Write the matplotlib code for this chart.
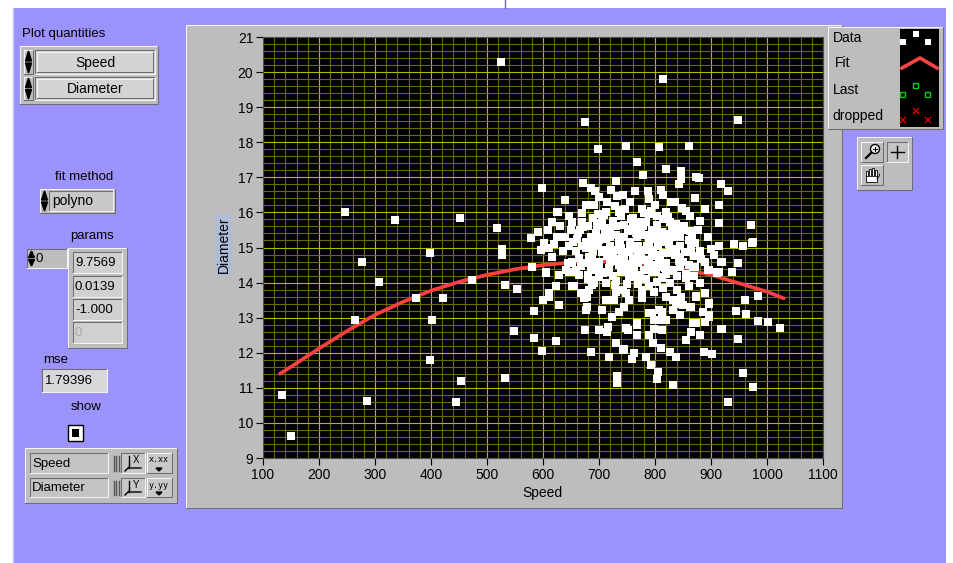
import matplotlib
matplotlib.use('Agg')
import matplotlib.pyplot as plt
from matplotlib.patches import Rectangle
from matplotlib.ticker import MultipleLocator

# ---------------- data ----------------
speed_sparse = [134, 150, 247, 265, 277, 286, 308, 335, 374, 399,
                399, 401, 421, 444, 451, 453, 473, 518, 525, 527,
                527, 532, 532, 553, 548, 815, 675, 949, 699, 749,
                808, 860, 768, 779, 819, 847, 874, 878, 598, 672,
                731, 917, 930, 914, 914, 971, 975, 957, 941, 973,
                639, 625, 616, 609, 591, 578, 630, 625]
diam_sparse = [10.8, 9.63, 16.0, 12.94, 14.6, 10.63, 14.03, 15.77, 13.57, 14.83,
               11.8, 12.94, 13.57, 10.6, 15.83, 11.2, 14.06, 15.57, 20.3, 14.95,
               14.8, 13.94, 11.29, 13.83, 12.63, 19.8, 18.57, 18.63, 17.8, 17.9,
               17.86, 17.9, 17.43, 17.06, 17.23, 17.17, 17.0, 16.97, 16.71, 16.83,
               16.89, 16.8, 16.6, 16.2, 15.69, 15.63, 15.17, 15.03, 15.09, 15.14,
               16.34, 16.0, 15.74, 15.49, 15.43, 15.26, 15.6, 15.31]

speed_low = [584, 600, 605, 584, 598, 623, 628, 652, 675, 686,
             700, 715, 718, 733, 733, 731, 745, 759, 768, 784,
             792, 806, 803, 832, 799, 813, 810, 826, 837, 855,
             864, 880, 887, 901, 917, 930, 949, 957, 975, 984,
             1001, 1023, 944, 962, 960, 984, 897, 890, 910, 949,
             917, 896, 874, 865, 885, 897, 889, 867, 847, 832,
             832, 844, 813, 820, 803, 790, 777, 777, 799, 767,
             751, 724, 736, 754, 749, 731, 713, 706, 679, 673,
             682, 668, 691, 713, 700, 659, 641, 611, 767, 784,
             803, 826, 856, 832, 867]
diam_low = [13.2, 13.49, 14.26, 12.43, 12.06, 12.34, 13.37, 13.89, 12.66, 12.03,
            12.66, 12.6, 11.89, 11.34, 11.14, 12.29, 12.11, 11.83, 12.51, 11.89,
            11.66, 11.46, 11.26, 11.09, 12.69, 12.66, 12.14, 12.03, 11.89, 12.37,
            12.6, 12.51, 12.03, 11.97, 12.69, 10.6, 12.4, 11.43, 11.03, 12.91,
            12.89, 12.71, 13.2, 13.11, 13.51, 13.63, 13.4, 13.69, 14.26, 14.57,
            14.6, 14.37, 13.63, 13.31, 13.17, 13.09, 12.89, 12.86, 13.6, 13.51,
            13.23, 13.09, 13.17, 12.94, 12.94, 13.14, 13.57, 13.8, 13.74, 12.8,
            12.66, 13.03, 13.17, 13.51, 13.71, 13.74, 13.51, 13.23, 13.29, 13.57,
            13.8, 13.71, 14.0, 14.0, 14.17, 14.29, 14.37, 13.71, 14.17, 14.09,
            14.03, 14.0, 14.14, 14.37, 14.43]

speed_upper_left = [686, 693, 722, 733, 743, 788, 790, 677, 691, 715,
                    729, 747, 776, 627, 670, 709, 647, 652, 670, 702,
                    740, 772, 784, 803, 650, 666, 718, 754, 794, 602,
                    647, 677, 695, 713, 736, 767, 790, 596, 616, 659,
                    682, 706, 731, 754, 784, 803, 652, 677, 700, 736,
                    763, 790, 580, 605, 659, 713, 628]
diam_upper_left = [16.69, 16.6, 16.63, 16.46, 16.49, 16.6, 16.37, 16.2, 16.2, 16.29,
                   16.17, 16.11, 16.11, 16.0, 15.97, 15.94, 15.89, 15.74, 15.74, 15.69,
                   15.89, 15.74, 15.74, 15.89, 15.51, 15.49, 15.57, 15.46, 15.51, 15.14,
                   15.03, 15.17, 15.03, 15.23, 15.14, 15.31, 15.17, 14.94, 14.74, 14.89,
                   14.74, 14.86, 14.94, 14.86, 14.94, 14.8, 14.6, 14.57, 14.6, 14.51,
                   14.46, 14.57, 14.43, 14.29, 14.37, 14.31, 14.23]

speed_upper_right = [842, 847, 815, 835, 829, 871, 849, 856, 863, 826,
                     838, 849, 876, 862, 803, 813, 832, 799, 820, 871,
                     915, 906, 919, 948, 937, 910, 894, 883, 862, 844,
                     826, 808, 795, 832, 813]
diam_upper_right = [16.8, 16.94, 16.49, 16.31, 16.29, 16.4, 16.14, 16.03, 15.89, 15.74,
                    15.66, 15.51, 15.49, 15.46, 15.57, 15.43, 15.31, 15.23, 15.17, 15.14,
                    15.03, 14.8, 14.6, 14.57, 14.31, 14.29, 14.37, 14.66, 14.86, 14.74,
                    14.94, 14.74, 14.51, 14.37, 14.17]

speed_mid = [623, 716, 749, 767, 742, 763, 796, 790, 799, 794,
             677, 679, 706, 742, 754, 665, 647, 656, 688, 611,
             726, 745, 813, 808, 862, 874, 896, 897, 885, 874,
             919, 915, 838, 850, 820, 860, 880]
diam_mid = [13.89, 12.74, 12.71, 12.86, 12.09, 12.0, 12.29, 12.51, 12.94, 13.14,
            13.23, 13.6, 13.23, 13.8, 14.17, 14.23, 14.29, 13.89, 13.94, 13.6,
            13.5, 13.3, 12.94, 13.23, 13.29, 13.6, 13.43, 13.03, 13.17, 12.86,
            12.69, 14.29, 13.4, 13.35, 13.6, 13.9, 14.0]

speed_core = [690, 705, 725, 745, 760, 775, 695, 710, 730, 745,
              760, 780, 800, 815, 830, 845, 860, 685, 700, 720,
              740, 755, 770, 785, 805, 825, 845, 865, 880, 670,
              690, 715, 725, 745, 760, 775, 795, 815, 835, 850,
              870, 890, 665, 690, 720, 740, 750, 770, 780, 805,
              820, 845, 860, 685, 700, 725, 740, 760, 795, 820,
              840, 870, 680, 730, 750, 770, 790, 815, 840, 735,
              755, 800, 820, 700, 765, 810, 680, 640, 660, 635,
              620, 645, 610, 880, 895, 900, 890, 755, 720, 705,
              790]
diam_core = [15.85, 15.6, 15.75, 15.65, 15.85, 15.5, 15.4, 15.45, 15.35, 15.3,
             15.6, 15.35, 15.4, 15.8, 15.55, 15.3, 15.2, 15.3, 15.2, 15.05,
             15.0, 15.15, 15.05, 15.05, 15.05, 15.1, 15.05, 15.0, 14.9, 15.05,
             14.9, 14.75, 14.9, 14.75, 14.7, 14.8, 14.75, 14.85, 14.8, 14.6,
             14.75, 14.6, 14.7, 14.55, 14.6, 14.65, 14.4, 14.55, 14.35, 14.45,
             14.55, 14.45, 14.5, 14.35, 14.4, 14.2, 14.3, 14.25, 14.3, 14.25,
             14.2, 14.2, 14.1, 14.05, 13.95, 13.95, 13.9, 13.85, 13.8, 16.0,
             16.3, 16.2, 16.0, 16.45, 16.6, 16.65, 15.6, 15.3, 15.25, 14.9,
             15.1, 14.55, 15.0, 15.75, 15.3, 14.95, 16.1, 15.0, 15.3, 15.75,
             15.95]

speed_dense = [662, 672, 684, 697, 708, 719, 731, 738, 752, 766,
               778, 789, 803, 812, 822, 836, 851, 866, 676, 688,
               699, 711, 727, 741, 757, 769, 783, 797, 809, 824,
               838, 853, 668, 681, 693, 707, 718, 733, 748, 762,
               774, 788, 802, 817, 829, 843, 856, 871, 654, 698,
               739, 781, 823, 712, 758, 793, 686, 728, 771, 812]
diam_dense = [15.42, 15.58, 15.12, 15.63, 15.28, 15.52, 15.61, 15.18, 15.52, 15.41,
              15.62, 15.29, 15.63, 15.22, 15.38, 15.47, 15.62, 15.36, 14.98, 14.71,
              15.09, 14.92, 14.66, 14.88, 14.97, 14.81, 14.64, 14.92, 14.68, 14.83,
              14.97, 14.86, 14.47, 14.21, 14.53, 14.28, 14.42, 14.61, 14.52, 14.38,
              14.21, 14.44, 14.29, 14.41, 14.33, 14.62, 14.24, 14.44, 15.17, 15.96,
              16.08, 15.98, 15.88, 16.02, 15.82, 16.04, 14.06, 13.92, 14.12, 14.12]

fit_speed = [130, 150, 200, 250, 300, 350, 400, 450, 500, 550, 600,
             650, 700, 750, 800, 850, 900, 950, 1000, 1030]
fit_diam = [11.4, 11.6, 12.12, 12.62, 13.08, 13.45, 13.77, 14.02, 14.22, 14.38, 14.5,
            14.57, 14.6, 14.58, 14.5, 14.38, 14.22, 13.98, 13.74, 13.55]

x_ticks = [100, 200, 300, 400, 500, 600, 700, 800, 900, 1000, 1100]
y_ticks = [9, 10, 11, 12, 13, 14, 15, 16, 17, 18, 19, 20, 21]
param_values = ['9.7569', '0.0139', '-1.000', '0']
mse_text = '1.79396'

# ---------------- figure ----------------
W, H = 954, 563
fig = plt.figure(figsize=(W / 100, H / 100), dpi=100, facecolor='white')
bg = fig.add_axes([0, 0, 1, 1])
bg.set_xlim(0, W)
bg.set_ylim(H, 0)
bg.axis('off')

PURPLE = '#9B93FB'
GRAY = '#BDBDBD'
FONT = 'Liberation Sans'
LW = 0.75


def rect(x0, y0, x1, y1, fc, ec='none', lw=0, z=1):
    bg.add_patch(Rectangle((x0, y0), x1 - x0, y1 - y0, facecolor=fc,
                           edgecolor=ec, linewidth=lw, zorder=z))


def bevel(x0, y0, x1, y1, fc, raised=True, z=2):
    rect(x0, y0, x1, y1, fc, z=z)
    tl = '#F4F4F4' if raised else '#6E6E6E'
    br = '#6E6E6E' if raised else '#F4F4F4'
    bg.plot([x0, x0, x1], [y1, y0, y0], color=tl, lw=LW, zorder=z + 0.1)
    bg.plot([x0, x1, x1], [y1, y1, y0], color=br, lw=LW, zorder=z + 0.1)


def txt(x, y, s, ha='left', size=9.5, color='black', z=5, family=FONT):
    bg.text(x, y, s, ha=ha, va='center', fontsize=size, color=color,
            family=family, zorder=z)


def arrows(x, y0, y1, z=4):
    # tiny up/down increment arrows
    xm = x + 3.5
    h = (y1 - y0) / 2
    bg.fill([x + 0.5, x + 6.5, xm], [y0 + h - 1, y0 + h - 1, y0 + 1], color='black', zorder=z)
    bg.fill([x + 0.5, x + 6.5, xm], [y0 + h + 1, y0 + h + 1, y1 - 1], color='black', zorder=z)


# purple front panel
rect(13, 8, 946, H, PURPLE, z=0)
bg.plot([13, 13], [8, H], color='#C8C2FF', lw=1, zorder=0.5)
bg.plot([505, 505], [0, 8], color='#6A6AB0', lw=1, zorder=0.5)

# graph frame
bevel(186, 25, 842, 508, GRAY, raised=True, z=1)

# left controls
txt(22, 34, 'Plot quantities')
bevel(20, 46, 158, 104, GRAY, raised=True, z=2)
for (ya, yb, s) in [(50, 74, 'Speed'), (77, 100, 'Diameter')]:
    bevel(24, ya, 33, yb, GRAY, raised=True, z=3)
    arrows(25, ya, yb)
    bevel(35, ya, 155, yb, '#D4D4D4', raised=False, z=3)
    bevel(37, ya + 2, 153, yb - 2, '#D4D4D4', raised=True, z=3.2)
    txt(95, (ya + yb) / 2 + 0.5, s, ha='center', size=10)

txt(84, 177, 'fit method', ha='center')
bevel(40, 189, 115, 213, GRAY, raised=True, z=2)
arrows(41, 190, 212)
bevel(49, 191, 113, 211, '#C8C8C8', raised=False, z=3)
txt(52, 201, 'polyno', size=10)

txt(92, 236, 'params', ha='center')
bevel(27, 249, 67, 268, GRAY, raised=False, z=2)
arrows(28, 250, 267)
txt(36, 258.5, '0', size=9.5)
bevel(68, 248, 127, 348, GRAY, raised=True, z=2)
cell_tops = [252, 276, 299, 322]
for i, (yt, s) in enumerate(zip(cell_tops, param_values)):
    bevel(73, yt, 122, yt + 21, '#D0D0D0', raised=False, z=3)
    txt(75, yt + 11, s, size=9.5, color='#A8A8A8' if i == 3 else 'black')

txt(43, 360, 'mse', size=9.5)
bevel(42, 369, 107, 392, '#D8D8D8', raised=False, z=2)
txt(45, 381, mse_text, size=9.5)

txt(86, 407, 'show', ha='center')
rect(68, 425, 83, 441, 'white', ec='black', lw=1, z=3)
rect(72, 429, 79, 437, 'black', z=4)

bevel(25, 448, 177, 503, GRAY, raised=True, z=2)
for (ya, yb, s, lab) in [(453, 473, 'Speed', 'X'), (478, 497, 'Diameter', 'Y')]:
    bevel(30, ya, 108, yb, '#C4C4C4', raised=False, z=3)
    txt(32, (ya + yb) / 2 + 0.5, s, size=9.5)
    for k in range(3):
        bg.plot([114 + 2.5 * k] * 2, [ya + 3, yb - 2], color='#555555', lw=1, zorder=4)
    bevel(121, ya, 145, yb, '#C8C8C8', raised=False, z=3)
    bg.plot([125, 129, 129, 141], [yb - 2, yb - 6, yb - 5, yb - 5], color='black', lw=1, zorder=4)
    bg.plot([129, 129], [ya + 3, yb - 5], color='black', lw=1, zorder=4)
    txt(136, ya + 7, lab, size=7, ha='center')
    bevel(147, ya, 172, yb, '#C8C8C8', raised=True, z=3)
    txt(159, ya + 7, 'x.xx' if lab == 'X' else 'y.yy', size=6, ha='center',
        family='DejaVu Sans Mono')
    bg.fill([156, 162, 159], [yb - 5, yb - 5, yb - 2], color='black', zorder=5)

# legend (plot legend at top right)
bevel(828, 27, 943, 129, GRAY, raised=True, z=2)
for (yy, s, xx) in [(38, 'Data', 833), (63, 'Fit', 835), (90, 'Last', 833), (116, 'dropped', 832)]:
    txt(xx, yy, s, size=10)
rect(900, 29, 939, 127, 'black', z=3)
for (cx, cy) in [(916, 34), (903, 42), (928, 42)]:
    rect(cx - 3, cy - 3, cx + 3, cy + 3, 'white', z=4)
bg.plot([902, 920, 937], [68, 58, 68], color='#FF4444', lw=2.6, zorder=4)
for (cx, cy) in [(916, 85), (903, 94), (928, 94)]:
    rect(cx - 2.5, cy - 2.5, cx + 2.5, cy + 2.5, 'none', ec='#00D000', lw=1, z=4)
for (cx, cy) in [(916, 111), (903, 120), (928, 120)]:
    bg.plot([cx - 2.5, cx + 2.5], [cy - 2.5, cy + 2.5], color='#E00000', lw=1, zorder=4)
    bg.plot([cx - 2.5, cx + 2.5], [cy + 2.5, cy - 2.5], color='#E00000', lw=1, zorder=4)

# tool palette
bevel(857, 137, 912, 190, GRAY, raised=True, z=2)
bevel(861, 142, 883, 162, GRAY, raised=True, z=3)
bg.add_patch(plt.Circle((875, 149), 4.5, facecolor='white', edgecolor='black', lw=1, zorder=4))
bg.plot([871.5, 866], [152.5, 158], color='black', lw=1.6, zorder=4)
bg.plot([873, 877], [149, 149], color='black', lw=0.8, zorder=5)
bg.plot([875, 875], [147, 151], color='black', lw=0.8, zorder=5)
bevel(887, 142, 908, 162, '#C4C4C4', raised=False, z=3)
bg.plot([891, 904], [152, 152], color='black', lw=1, zorder=4)
bg.plot([897.5, 897.5], [146, 158], color='black', lw=1, zorder=4)
bevel(861, 165, 883, 185, GRAY, raised=True, z=3)
# hand icon drawn as a simple shape (glyph not available in installed fonts)
for fx, ftop in [(867, 171), (870, 168.5), (873, 168), (876, 170)]:
    bg.add_patch(Rectangle((fx - 1.2, ftop), 2.4, 176 - ftop, facecolor='white',
                           edgecolor='black', lw=0.6, zorder=4.5))
bg.add_patch(Rectangle((866, 175), 11, 7, facecolor='white', edgecolor='black', lw=0.6, zorder=4.4))
bg.plot([877, 879.5, 879], [179, 175.5, 174], color='black', lw=0.6, zorder=4.6)

# ---------------- main plot ----------------
left, right, top, bottom = 263, 823, 37, 458
ax = fig.add_axes([left / W, 1 - bottom / H, (right - left) / W, (bottom - top) / H])
ax.set_facecolor('black')
ax.set_xlim(100, 1100)
ax.set_ylim(9, 21)
ax.xaxis.set_minor_locator(MultipleLocator(20))
ax.yaxis.set_minor_locator(MultipleLocator(0.2))
ax.set_xticks(x_ticks)
ax.set_yticks(y_ticks)
ax.set_xticklabels([str(v) for v in x_ticks], family=FONT, fontsize=10)
ax.set_yticklabels([str(v) for v in y_ticks], family=FONT, fontsize=10)
ax.grid(which='minor', color='#6A6A00', lw=0.8)
ax.grid(which='major', color='#B8B800', lw=0.8)
ax.set_axisbelow(True)
ax.tick_params(which='minor', length=0)
ax.tick_params(which='major', length=5, width=0.8, color='black', pad=2, direction='out')
for s in ax.spines.values():
    s.set_color('#505050')
    s.set_linewidth(0.8)

ax.plot(fit_speed, fit_diam, '-', color='#FF4040', lw=2.6, zorder=2.5, solid_capstyle='round')
groups = [(speed_sparse, diam_sparse), (speed_low, diam_low),
          (speed_upper_left, diam_upper_left), (speed_upper_right, diam_upper_right),
          (speed_mid, diam_mid), (speed_core, diam_core), (speed_dense, diam_dense)]
for sx, sy in groups:
    ax.plot(sx, sy, 's', color='white', ms=5.7, mew=0, zorder=3, clip_on=False)

# axis labels
bg.text(542, 493, 'Speed', ha='center', va='center', fontsize=10, family=FONT, zorder=5)
bg.text(224, 245, 'Diameter', ha='center', va='center', rotation=90, fontsize=10,
        family=FONT, zorder=5,
        bbox=dict(boxstyle='square,pad=0.1', facecolor='#AEBCD8', edgecolor='none'))

fig.savefig('out.png', dpi=100, facecolor='white')
